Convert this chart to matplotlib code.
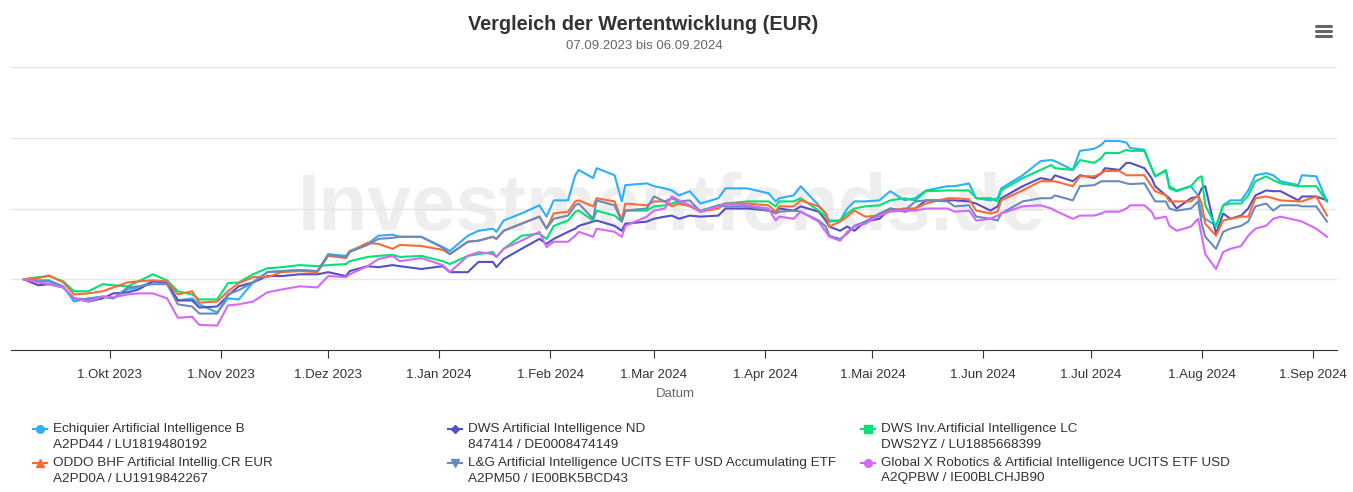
import numpy as np
import matplotlib
matplotlib.use("Agg")
from matplotlib import pyplot as plt
from matplotlib import dates as mdates
from matplotlib.lines import Line2D

plt.rcParams["font.family"] = ["Liberation Sans", "DejaVu Sans"]

# Wertentwicklung in % seit 07.09.2023
dates = np.array([
    "2023-09-07", "2023-09-11", "2023-09-14", "2023-09-18", "2023-09-21", "2023-09-25",
    "2023-09-29", "2023-10-02", "2023-10-06", "2023-10-09", "2023-10-13", "2023-10-17",
    "2023-10-20", "2023-10-24", "2023-10-26", "2023-10-31", "2023-11-03", "2023-11-06",
    "2023-11-10", "2023-11-14", "2023-11-18", "2023-11-23", "2023-11-28", "2023-12-01",
    "2023-12-06", "2023-12-07", "2023-12-12", "2023-12-15", "2023-12-19", "2023-12-21",
    "2023-12-27", "2024-01-02", "2024-01-04", "2024-01-09", "2024-01-12", "2024-01-16",
    "2024-01-17", "2024-01-19", "2024-01-24", "2024-01-29", "2024-01-31", "2024-02-02",
    "2024-02-06", "2024-02-08", "2024-02-09", "2024-02-13", "2024-02-14", "2024-02-19",
    "2024-02-21", "2024-02-22", "2024-02-28", "2024-03-01", "2024-03-04", "2024-03-06",
    "2024-03-08", "2024-03-11", "2024-03-14", "2024-03-19", "2024-03-21", "2024-03-27",
    "2024-04-02", "2024-04-04", "2024-04-05", "2024-04-09", "2024-04-11", "2024-04-16",
    "2024-04-18", "2024-04-19", "2024-04-22", "2024-04-24", "2024-04-26", "2024-04-29",
    "2024-05-03", "2024-05-06", "2024-05-10", "2024-05-13", "2024-05-16", "2024-05-22",
    "2024-05-24", "2024-05-28", "2024-05-30", "2024-06-03", "2024-06-05", "2024-06-06",
    "2024-06-12", "2024-06-17", "2024-06-20", "2024-06-21", "2024-06-26", "2024-06-28",
    "2024-07-02", "2024-07-04", "2024-07-05", "2024-07-09", "2024-07-11", "2024-07-12",
    "2024-07-16", "2024-07-18", "2024-07-19", "2024-07-22", "2024-07-23", "2024-07-25",
    "2024-07-29", "2024-07-31", "2024-08-01", "2024-08-02", "2024-08-05", "2024-08-07",
    "2024-08-09", "2024-08-12", "2024-08-14", "2024-08-16", "2024-08-19", "2024-08-21",
    "2024-08-23", "2024-08-28", "2024-08-29", "2024-09-02", "2024-09-05",
], dtype="datetime64[D]")

echiquier = [
    0.0, -0.3, -0.3, -2.0, -6.3, -5.4, -4.9, -5.4, -2.9, -2.3, -0.6, -1.1,
    -6.0, -5.4, -7.1, -9.4, -5.4, -5.7, -0.9, 2.0, 2.3, 2.6, 2.3, 7.1,
    6.6, 8.0, 10.0, 12.3, 12.6, 12.0, 12.0, 9.1, 8.0, 12.3, 13.7, 14.3,
    13.4, 16.6, 18.6, 20.9, 17.7, 22.3, 22.3, 29.4, 30.9, 28.6, 31.4, 29.4,
    22.0, 26.6, 27.1, 26.3, 25.7, 25.1, 23.7, 24.9, 21.4, 22.9, 25.7, 25.7,
    24.3, 22.0, 22.9, 23.7, 26.3, 20.9, 18.6, 16.3, 16.6, 20.0, 22.0, 22.0,
    22.3, 24.9, 22.3, 22.9, 25.1, 26.3, 26.3, 27.1, 22.9, 22.3, 22.9, 25.7,
    29.4, 33.4, 33.7, 33.4, 30.9, 36.3, 36.9, 38.0, 39.1, 39.1, 38.6, 37.1,
    36.6, 31.4, 29.1, 30.6, 26.3, 25.1, 26.3, 23.7, 18.0, 17.1, 15.1, 20.9,
    22.3, 22.3, 25.1, 29.4, 30.0, 29.4, 27.7, 26.6, 29.4, 29.1, 22.0,
]
dws_nd = [
    0.0, -1.7, -1.4, -2.3, -5.4, -6.3, -5.4, -4.0, -3.7, -2.9, -0.6, -0.9,
    -6.0, -6.0, -8.0, -7.7, -4.6, -2.0, -0.9, 0.9, 0.9, 1.4, 1.4, 2.0,
    0.9, 2.3, 3.7, 3.4, 4.0, 3.7, 2.9, 3.7, 2.0, 2.0, 4.9, 4.9,
    3.4, 5.7, 8.6, 11.4, 10.0, 11.4, 13.4, 14.3, 15.1, 16.3, 16.6, 15.1,
    13.7, 15.7, 16.3, 17.1, 17.7, 18.0, 17.1, 18.0, 17.7, 18.0, 20.0, 20.0,
    19.4, 19.1, 20.0, 19.4, 20.6, 19.1, 16.6, 14.9, 13.7, 14.9, 13.7, 16.3,
    17.1, 20.0, 19.1, 20.0, 22.3, 22.3, 22.3, 22.0, 21.4, 19.4, 20.6, 22.9,
    26.3, 28.6, 28.0, 29.4, 27.7, 29.4, 28.6, 30.0, 31.4, 30.9, 32.9, 32.9,
    31.4, 28.6, 26.3, 23.7, 22.9, 20.0, 22.9, 23.4, 25.7, 26.3, 12.9, 18.6,
    17.1, 18.0, 20.0, 23.7, 25.1, 24.9, 24.9, 22.3, 23.4, 23.4, 22.3,
]
dws_lc = [
    0.0, 0.6, 0.9, -0.6, -3.4, -3.4, -1.4, -1.7, -2.0, -0.6, 1.4, -0.3,
    -3.4, -4.3, -5.7, -5.7, -1.1, -0.9, 1.4, 3.1, 3.4, 4.0, 3.7, 4.0,
    4.3, 5.1, 6.3, 6.6, 6.9, 6.3, 6.6, 5.1, 4.3, 6.6, 7.1, 7.7,
    6.3, 8.6, 12.3, 12.9, 11.4, 15.1, 16.6, 19.1, 19.4, 16.6, 19.4, 18.0,
    16.3, 19.4, 19.4, 20.6, 20.9, 21.4, 22.0, 20.9, 19.4, 20.9, 21.4, 22.0,
    22.0, 20.6, 22.0, 22.0, 22.9, 19.4, 17.7, 16.6, 16.6, 18.6, 20.0, 20.6,
    20.9, 22.3, 22.9, 22.3, 24.9, 25.1, 25.1, 25.1, 22.9, 22.9, 22.0, 25.1,
    28.6, 30.9, 32.3, 31.4, 30.9, 33.7, 32.9, 34.3, 35.7, 35.7, 36.6, 36.3,
    36.3, 31.4, 29.1, 30.9, 25.7, 24.9, 26.3, 28.6, 29.1, 20.9, 14.9, 20.9,
    21.4, 21.4, 23.7, 27.7, 29.1, 28.0, 27.1, 26.3, 26.3, 26.3, 22.0,
]
oddo = [
    0.0, 0.3, 1.1, -0.9, -4.3, -4.0, -3.4, -2.3, -0.9, -0.6, -0.3, -0.6,
    -4.3, -3.4, -6.6, -6.3, -3.4, -1.1, 0.6, 0.6, 2.0, 2.3, 2.0, 6.6,
    6.0, 7.7, 10.3, 10.0, 8.6, 9.7, 9.4, 8.3, 7.1, 10.6, 10.9, 12.0,
    11.4, 13.7, 15.7, 17.7, 14.3, 18.6, 19.1, 22.0, 22.3, 20.6, 22.9, 22.0,
    16.6, 21.4, 20.9, 22.0, 22.0, 20.6, 21.4, 20.6, 19.1, 20.0, 21.4, 21.4,
    20.9, 19.1, 20.6, 20.6, 22.3, 20.6, 18.6, 14.9, 16.3, 17.7, 19.4, 17.7,
    18.0, 19.4, 20.0, 20.0, 21.4, 22.9, 22.9, 22.6, 19.4, 18.6, 19.1, 22.3,
    25.1, 27.7, 27.7, 27.7, 26.3, 29.1, 29.1, 30.0, 30.6, 30.6, 29.4, 29.4,
    29.4, 26.3, 24.9, 23.7, 22.0, 22.0, 22.0, 23.7, 21.4, 15.7, 12.3, 16.6,
    17.1, 17.7, 17.7, 22.9, 23.4, 22.9, 22.3, 22.0, 22.0, 23.4, 18.0,
]
lg_etf = [
    0.0, -0.6, -0.6, -2.3, -5.4, -5.7, -4.9, -5.4, -2.3, -2.0, -1.4, -1.4,
    -7.1, -7.7, -9.7, -9.7, -4.3, -3.1, -0.9, 2.0, 2.3, 2.6, 2.3, 6.9,
    6.3, 7.7, 9.7, 11.4, 11.7, 12.0, 12.0, 8.9, 7.1, 10.6, 10.9, 12.0,
    11.4, 13.7, 15.7, 17.7, 14.3, 17.1, 18.0, 20.9, 21.4, 17.1, 22.3, 20.9,
    16.3, 19.4, 20.0, 23.4, 22.0, 22.9, 22.0, 22.3, 19.1, 20.9, 20.6, 20.6,
    19.4, 18.6, 19.1, 19.4, 19.1, 16.6, 14.9, 12.3, 11.4, 12.9, 15.1, 16.3,
    18.6, 20.0, 19.4, 22.0, 22.3, 22.0, 20.6, 20.9, 17.7, 17.1, 16.6, 18.6,
    22.0, 22.9, 22.9, 23.7, 22.3, 26.3, 26.6, 27.7, 27.7, 27.7, 27.1, 26.9,
    27.1, 23.7, 22.0, 22.0, 20.0, 19.4, 20.0, 22.0, 15.7, 12.0, 8.6, 13.4,
    14.3, 15.1, 16.3, 20.6, 21.4, 19.4, 20.9, 20.9, 20.6, 20.6, 16.3,
]
global_x = [
    0.0, -0.9, -1.4, -2.3, -5.4, -6.3, -4.9, -5.1, -4.3, -4.0, -4.0, -5.4,
    -10.9, -10.6, -12.9, -13.1, -7.4, -7.1, -6.3, -3.7, -2.9, -2.0, -2.3, 0.9,
    0.6, 1.4, 3.7, 5.7, 6.6, 5.1, 6.0, 4.0, 2.0, 6.6, 7.7, 7.1,
    6.3, 8.6, 10.9, 13.4, 9.1, 10.6, 10.6, 12.3, 13.4, 12.0, 14.3, 13.4,
    12.0, 15.1, 17.7, 19.4, 20.0, 23.4, 22.3, 20.9, 19.1, 20.6, 21.4, 20.9,
    20.0, 16.6, 17.7, 17.1, 19.1, 16.3, 13.4, 12.0, 10.9, 13.4, 14.9, 15.7,
    18.0, 19.1, 19.4, 19.4, 20.0, 20.0, 19.1, 19.4, 16.6, 17.1, 18.0, 18.6,
    20.6, 20.9, 20.0, 19.4, 17.1, 18.0, 18.0, 18.6, 19.1, 19.1, 20.0, 20.9,
    20.9, 19.1, 17.1, 17.7, 15.1, 13.7, 14.9, 17.1, 12.3, 7.1, 2.9, 7.7,
    8.6, 9.4, 12.3, 14.3, 15.1, 17.1, 17.7, 16.6, 16.3, 14.3, 12.0,
]

names = [
    "Echiquier Artificial Intelligence B",
    "DWS Artificial Intelligence ND",
    "DWS Inv.Artificial Intelligence LC",
    "ODDO BHF Artificial Intellig.CR EUR",
    "L&G Artificial Intelligence UCITS ETF USD Accumulating ETF",
    "Global X Robotics & Artificial Intelligence UCITS ETF USD",
]
codes = [
    "A2PD44 / LU1819480192",
    "847414 / DE0008474149",
    "DWS2YZ / LU1885668399",
    "A2PD0A / LU1919842267",
    "A2PM50 / IE00BK5BCD43",
    "A2QPBW / IE00BLCHJB90",
]
series = [echiquier, dws_nd, dws_lc, oddo, lg_etf, global_x]
colors = ["#2caffe", "#544fc5", "#00e272", "#fe6a35", "#6b8abc", "#d568fb"]
markers = ["o", "D", "s", "^", "v", "o"]

tick_dates = np.array([
    "2023-10-01", "2023-11-01", "2023-12-01", "2024-01-01", "2024-02-01", "2024-03-01",
    "2024-04-01", "2024-05-01", "2024-06-01", "2024-07-01", "2024-08-01", "2024-09-01",
], dtype="datetime64[D]")
tick_labels = [
    "1.Okt 2023", "1.Nov 2023", "1.Dez 2023", "1.Jan 2024", "1.Feb 2024", "1.Mar 2024",
    "1.Apr 2024", "1.Mai 2024", "1.Jun 2024", "1.Jul 2024", "1.Aug 2024", "1.Sep 2024",
]

W, H = 1353, 492
fig = plt.figure(figsize=(W / 100, H / 100), dpi=100)
ax = fig.add_axes([11 / W, 1 - 350 / H, 1326 / W, 283 / H])

ax.text(0.4985, 0.495, "Investmentfonds.de", transform=ax.transAxes,
        ha="center", va="center", fontsize=57, fontweight="bold",
        color="#eeeeee", zorder=0)

for vals, col in zip(series, colors):
    ax.plot(dates, vals, color=col, lw=1.5, zorder=2, solid_joinstyle="round")

x0 = mdates.date2num(np.datetime64("2023-09-07")) - 3.6
x1 = mdates.date2num(np.datetime64("2024-09-07")) + 0.8
ax.set_xlim(x0, x1)
ax.set_ylim(-20, 60)
ax.set_yticks([0, 20, 40, 60])
ax.yaxis.grid(True, color="#e6e6e6", lw=1)
ax.set_axisbelow(True)
ax.tick_params(axis="y", left=False, labelleft=False)

ax.set_xticks(mdates.date2num(tick_dates))
ax.set_xticklabels(tick_labels)
ax.tick_params(axis="x", direction="out", length=6, width=0.8, color="#333333",
               pad=8, labelsize=9.5, labelcolor="#333333")

for side in ["top", "left", "right"]:
    ax.spines[side].set_visible(False)
ax.spines["bottom"].set_color("#333333")
ax.spines["bottom"].set_linewidth(0.8)

fig.text(643 / W, 1 - 24 / H, "Vergleich der Wertentwicklung (EUR)", ha="center",
         va="center", fontsize=14.3, fontweight="bold", color="#333333")
fig.text(644 / W, 1 - 46 / H, "07.09.2023 bis 06.09.2024", ha="center",
         va="center", fontsize=9.5, color="#666666")
fig.text(675 / W, 1 - 394 / H, "Datum", ha="center", va="center",
         fontsize=9.5, color="#666666")

# Menü-Symbol oben rechts
for yy in [26, 31, 36]:
    fig.add_artist(Line2D([1316 / W, 1331 / W], [1 - yy / H, 1 - yy / H],
                          color="#666666", lw=2.2, solid_capstyle="round"))

# Legende
col_x = [40, 455, 868]
row_y = [429, 463]
for i, (name, code, col, mk) in enumerate(zip(names, codes, colors, markers)):
    cx = col_x[i % 3]
    ry = row_y[i // 3]
    fig.add_artist(Line2D([(cx - 7) / W, (cx + 7) / W], [1 - ry / H, 1 - ry / H],
                          color=col, lw=1.5))
    fig.add_artist(Line2D([cx / W], [1 - ry / H], color=col, marker=mk,
                          markersize=5.5 if mk != "D" else 4.5, lw=0))
    fig.text((cx + 13) / W, 1 - ry / H, name, ha="left", va="center",
             fontsize=9.7, color="#333333")
    fig.text((cx + 13) / W, 1 - (ry + 15.5) / H, code, ha="left", va="center",
             fontsize=9.7, color="#333333")

fig.savefig("out.png", dpi=100)
